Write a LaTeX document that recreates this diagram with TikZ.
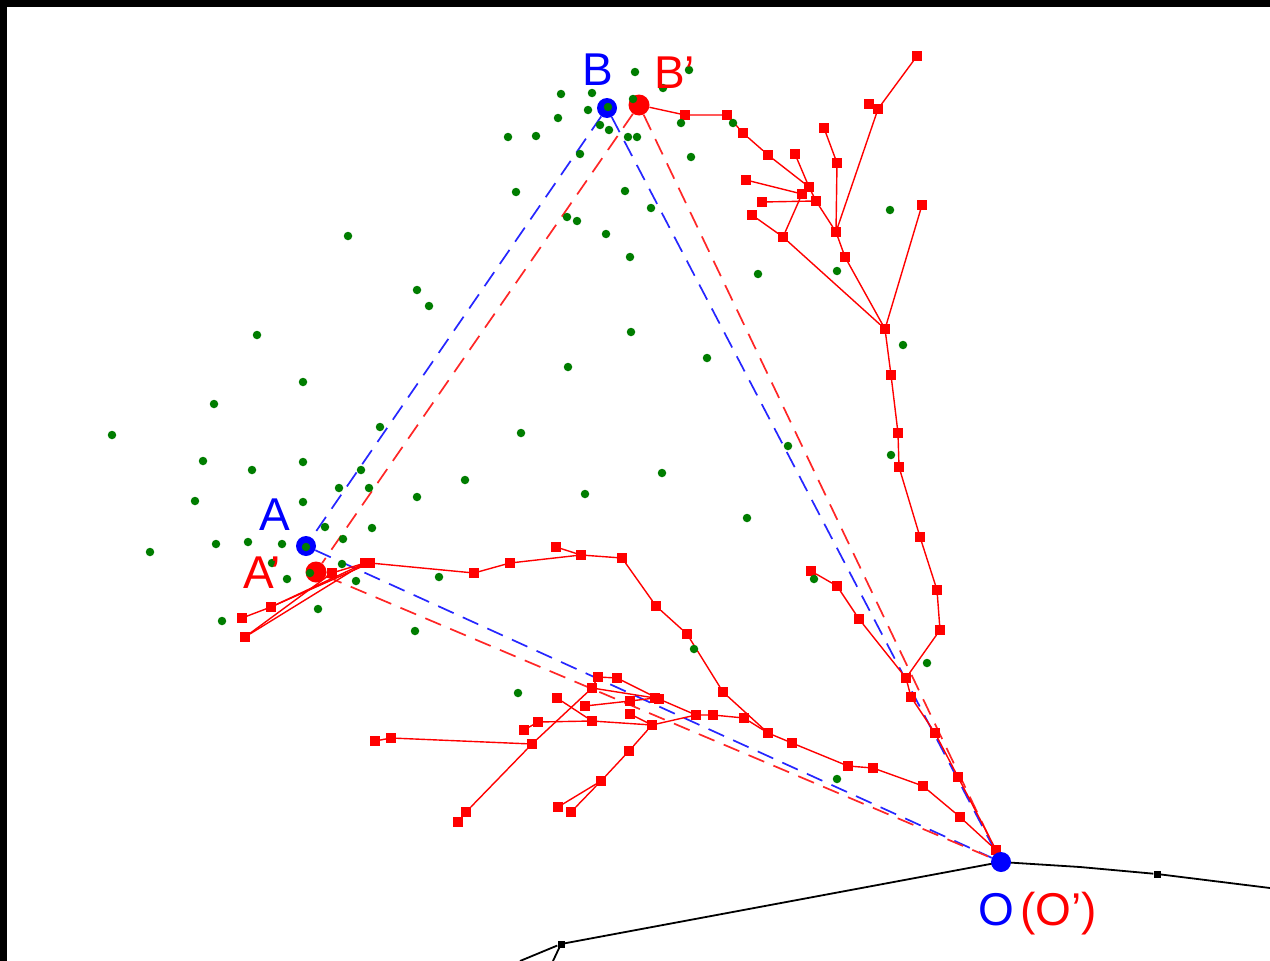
\documentclass[tikz,border=0pt]{standalone}
\usepackage{fontspec}
\setmainfont{Liberation Sans}
\pgfdeclarelayer{bg}
\pgfdeclarelayer{back}
\pgfsetlayers{bg,back,main}
\definecolor{gdk}{RGB}{0,125,0}
\definecolor{rr}{RGB}{255,0,0}
\definecolor{bb}{RGB}{0,0,255}
\begin{document}
\begin{tikzpicture}[x=1pt,y=-1pt,
  rsq/.style={rectangle,fill=rr,minimum size=9.5pt,inner sep=0pt},
  gdot/.style={circle,fill=gdk,minimum size=8.5pt,inner sep=0pt},
  bsq/.style={rectangle,fill=black,minimum size=7pt,inner sep=0pt},
  bigb/.style={circle,fill=bb,minimum size=20pt,inner sep=0pt},
  bigr/.style={circle,fill=rr,minimum size=21pt,inner sep=0pt},
  rline/.style={draw=rr,line width=1.4pt},
  bdash/.style={draw=bb!85!white,line width=1.7pt,dash pattern=on 17pt off 10pt},
  rdash/.style={draw=rr!85!white,line width=1.7pt,dash pattern=on 17pt off 10pt},
  kline/.style={draw=black,line width=1.8pt},
  lbl/.style={font=\fontsize{46}{54}\selectfont,inner sep=0pt,anchor=base west}]
\useasboundingbox (0,0) rectangle (1270,961);
\begin{pgfonlayer}{bg}
\fill[white] (0,0) rectangle (1270,961);
\fill[black] (0,0) rectangle (1270,7);
\fill[black] (0,0) rectangle (7,961);
\end{pgfonlayer}

% red squares, upper tree
\foreach \n/\x/\y in {r1/685/115,r2/727/115,r3/743/133,r4/768/155,r5/809/187,r6/795/154,
  r7/802/194,r8/816/201,r9/746/180,r10/762/202,r11/752/215,r12/783/237,r13/836/232,
  r14/837/163,r15/824/128,r16/878/109,r17/869/104,r18/917/56,r19/845/257,r20/885/329,
  r21/922/205,r22/891/375,r23/898/433,r24/899/467,r25/920/537,r26/937/590,r27/940/630,
  r28/906/678,r29/811/571,r30/837/586,r31/859/619,r32/911/697,r33/935/733,r34/958/777,
  r35/996/850}
  \node[rsq] (\n) at (\x,\y) {};
% red squares, lower tree
\foreach \n/\x/\y in {s1/332/573,s2/365/563,s3/370/563,s4/271/607,s5/242/618,s6/245/637,
  s7/474/573,s8/510/563,s9/556/547,s10/581/555,s11/622/558,s12/656/606,s13/687/634,
  s14/723/692,s15/768/733,s16/792/743,s17/848/766,s18/873/768,s19/923/786,s20/960/817}
  \node[rsq] (\n) at (\x,\y) {};
% red squares, middle tangle
\foreach \n/\x/\y in {m1/598/677,m2/617/678,m3/592/688,m4/557/698,m5/585/706,m6/630/701,
  m7/655/698,m8/659/699,m9/630/714,m10/592/721,m11/538/722,m12/524/730,m13/652/725,
  m14/696/715,m15/713/715,m16/744/718,m17/532/744,m18/391/738,m19/375/741,m20/466/812,
  m21/458/822,m22/629/751,m23/601/781,m24/558/807,m25/571/812}
  \node[rsq] (\n) at (\x,\y) {};

% black squares
\node[bsq] (k1) at (561,944) {};
\node[bsq] (k2) at (1157,874) {};
\coordinate (k0) at (520,961);
\coordinate (k3) at (553,961);
\coordinate (k4) at (1270,888);
\coordinate (k5) at (1080,867);

% big markers
\node[bigb] (B) at (607,108) {};
\node[bigr] (Bp) at (639,105) {};
\node[bigb] (A) at (306,546) {};
\node[bigr] (Ap) at (316,572) {};
\node[bigb] (O) at (1001,862) {};

% green dots
\foreach \x/\y [count=\i] in {635/72,689/70,561/94,592/93,663/88,633/99,608/107,588/110,
  558/118,600/125,609/130,628/137,637/137,508/137,536/136,681/123,733/123,580/154,
  691/157,516/192,625/191,651/208,567/217,577/221,606/234,630/257,758/274,890/210,
  837/271,903/345,707/358,788/446,891/455,747/518,348/236,417/290,429/306,257/335,
  303/382,214/404,112/435,203/461,252/470,303/462,380/427,361/470,465/480,339/488,
  369/488,417/497,195/501,303/502,325/527,372/528,343/539,150/552,216/544,248/542,
  282/544,306/547,272/563,342/564,287/579,310/573,356/581,439/577,318/609,222/621,
  415/631,568/367,631/332,521/433,585/494,662/473,694/649,518/693,837/779,927/663,
  814/579}
  \node[gdot] (g\i) at (\x,\y) {};

% labels
\node[lbl,text=bb] (lB) at (582,85) {B};
\node[lbl,text=rr] (lBp) at (654,88) {B’};
\node[lbl,text=bb] (lA) at (259,530) {A};
\node[lbl,text=rr] (lAp) at (243,588) {A’};
\node[lbl,text=bb] (lO) at (978,925) {O};
\node[lbl,text=rr] (lOp) at (1020,925) {(O’)};

\begin{pgfonlayer}{back}
% black curve
\draw[kline] (k0) -- (k1) -- (O.center) -- (k5) -- (k2) -- (k4);
\draw[kline] (k3) -- (k1);
% dashed triangles
\draw[bdash] (B) -- (A);
\draw[bdash] (B) -- (O);
\draw[bdash] (A) -- (O);
\draw[rdash] (Bp) -- (Ap);
\draw[rdash] (Bp) -- (O);
\draw[rdash] (Ap) -- (O);
% upper tree
\draw[rline] (Bp) -- (r1) -- (r2) -- (r3) -- (r4) -- (r5) -- (r8) -- (r13) -- (r19) -- (r20);
\draw[rline] (r6) -- (r5);
\draw[rline] (r9) -- (r7) -- (r12) -- (r20);
\draw[rline] (r10) -- (r8);
\draw[rline] (r11) -- (r12);
\draw[rline] (r15) -- (r14) -- (r13);
\draw[rline] (r17) -- (r16) -- (r18);
\draw[rline] (r16) -- (r13);
\draw[rline] (r21) -- (r20);
\draw[rline] (r20) -- (r22) -- (r23) -- (r24) -- (r25) -- (r26) -- (r27) -- (r28);
\draw[rline] (r29) -- (r30) -- (r31) -- (r28);
\draw[rline] (r28) -- (r32) -- (r33) -- (r34) -- (r35) -- (O);
% lower tree
\draw[rline] (Ap) -- (s1) -- (s2) -- (s3) -- (s7) -- (s8) -- (s10) -- (s11) -- (s12) -- (s13)
  -- (s14) -- (s15) -- (s16) -- (s17) -- (s18) -- (s19) -- (s20) -- (r35);
\draw[rline] (s9) -- (s10);
\draw[rline] (s2) -- (s4) -- (s5);
\draw[rline] (s3) -- (s4);
\draw[rline] (s2) -- (s6);
\draw[rline] (s1) -- (s6);
% middle tangle
\draw[rline] (m19) -- (m18) -- (m17);
\draw[rline] (m21) -- (m20) -- (m17) -- (m3) -- (m1) -- (m2) -- (m8) -- (m14) -- (m15) -- (m16) -- (s15);
\draw[rline] (m3) -- (m7);
\draw[rline] (m5) -- (m6) -- (m7);
\draw[rline] (m4) -- (m10);
\draw[rline] (m12) -- (m11) -- (m10) -- (m13) -- (m14);
\draw[rline] (m9) -- (m13) -- (m22) -- (m23) -- (m24);
\draw[rline] (m23) -- (m25);
\end{pgfonlayer}
\end{tikzpicture}
\end{document}
